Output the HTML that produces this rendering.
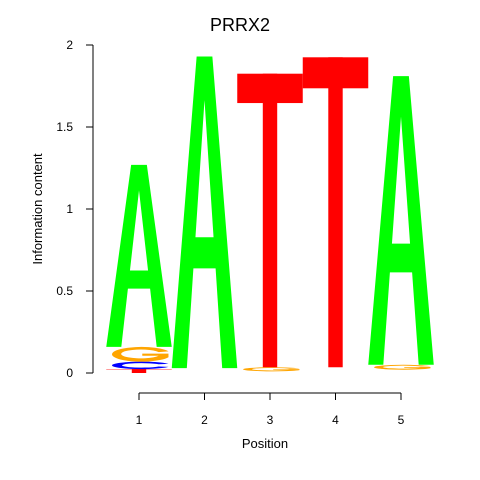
<!DOCTYPE html>
<html><head><meta charset="utf-8"><style>
body{margin:0;background:#fff;}
svg{display:block;font-family:"Liberation Sans",Arial,sans-serif;}
</style></head><body>
<svg id="chart" width="480" height="480" viewBox="0 0 480 480">
<text x="240" y="31" text-anchor="middle" font-size="18">PRRX2</text>
<g id="axes"></g>
<g id="letters"></g>
<text x="265" y="448" text-anchor="middle" font-size="13">Position</text>
<text transform="translate(42,209) rotate(-90)" text-anchor="middle" font-size="13">Information content</text>
</svg>
<script>
const positions = [1, 2, 3, 4, 5];
const baseOffsets = [0, 0.03, 0.01, 0.035, 0.02];
const letterStacks = [
  ["T", "C", "G", "A"],
  ["A"],
  ["G", "T"],
  ["T"],
  ["G", "A"]
];
const letterHeights = [
  [0.024, 0.045, 0.09, 1.11],
  [1.90],
  [0.025, 1.79],
  [1.89],
  [0.03, 1.76]
];
const yTicks = [0, 0.5, 1, 1.5, 2];
const yTickLabels = ["0", "0.5", "1", "1.5", "2"];

const NS = "http://www.w3.org/2000/svg";
const xScale = p => 139 + (p - 1) * 65.5;
const yScale = v => 373 - v * 164;
const colors = {A: "#00ff00", C: "#0000ff", G: "#ffa500", T: "#ff0000"};
function mk(tag, attrs, parent) {
  const e = document.createElementNS(NS, tag);
  for (const k in attrs) e.setAttribute(k, attrs[k]);
  parent.appendChild(e);
  return e;
}
const axes = document.getElementById("axes");
const ya = mk("line", {x1: 93, x2: 93, y1: yScale(2), y2: yScale(0), stroke: "#000"}, axes);


yTicks.forEach((t, i) => {
  const tk = mk("line", {x1: 86, x2: 93, y1: yScale(t), y2: yScale(t), stroke: "#000"}, axes);
  
  
  const lb = mk("text", {x: 73, y: yScale(t) + 4, "text-anchor": "end", "font-size": 12}, axes);
  lb.textContent = yTickLabels[i];
  
  
});
const xa = mk("line", {x1: xScale(positions[0]), x2: xScale(positions[positions.length - 1]), y1: 393, y2: 393, stroke: "#000"}, axes);


positions.forEach(p => {
  const tk = mk("line", {x1: xScale(p), x2: xScale(p), y1: 393, y2: 400, stroke: "#000"}, axes);
  
  
  const lb = mk("text", {x: xScale(p), y: 424, "text-anchor": "middle", "font-size": 12}, axes);
  lb.textContent = String(p);
  
  
});
const shapes = {
  A: '<polygon points="0,1 0.38,0 0.62,0 1,1 0.77,1 0.5,0.14 0.23,1"/><polygon points="0.33,0.58 0.67,0.58 0.7,0.68 0.3,0.68"/>',
  T: '<rect x="0" y="0" width="1" height="0.1"/><rect x="0.39" y="0" width="0.22" height="1"/>',
  C: '<path fill-rule="evenodd" d="M0.95,0.3 A0.45,0.5 0 1 0 0.95,0.7 L0.8,0.65 A0.3,0.3 0 1 1 0.8,0.35 Z"/>',
  G: '<path fill-rule="evenodd" d="M0.95,0.3 A0.45,0.5 0 1 0 0.95,0.7 L0.95,0.45 L0.55,0.45 L0.55,0.6 L0.8,0.6 A0.3,0.3 0 1 1 0.8,0.35 Z"/>'
};
const lg = document.getElementById("letters");
positions.forEach((p, i) => {
  let base = baseOffsets[i];
  letterStacks[i].forEach((L, j) => {
    const h = letterHeights[i][j];
    const y0 = yScale(base + h), y1 = yScale(base);
    const x0 = xScale(p) - 32.75;
    const g = mk("g", {transform: `translate(${x0},${y0}) scale(65.5,${Math.max(y1 - y0, 0.01)})`, fill: colors[L]}, lg);
    g.innerHTML = shapes[L];
    
    
    base += h;
  });
});
</script>
</body></html>
